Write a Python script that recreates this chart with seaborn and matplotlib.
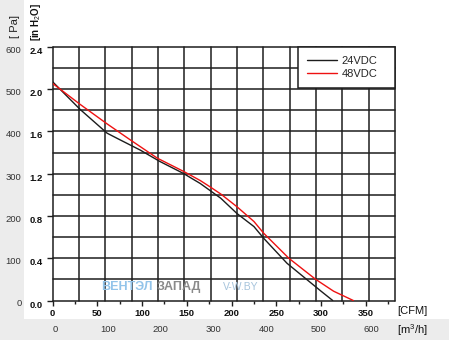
import numpy as np
import pandas as pd
import seaborn as sns
import matplotlib
matplotlib.use("Agg")
import matplotlib.pyplot as plt
from matplotlib.patches import Rectangle
from matplotlib import transforms as mtrans

# ---------------- data ----------------
series = ["24VDC", "48VDC"]
cfm_24 = [0, 31, 61, 72, 98, 120, 146, 165, 188, 206, 225, 236, 262, 285, 300, 313]
pa_24 = [518, 452, 396, 384, 356, 329, 301, 277, 242, 206, 175, 147, 88, 48, 22, 0]
cfm_48 = [0, 31, 61, 87, 117, 146, 165, 176, 188, 206, 225, 236, 264, 294, 314, 336]
pa_48 = [514, 464, 418, 380, 337, 306, 284, 269, 252, 222, 187, 159, 100, 50, 22, 0]

cfm_ticks = [0, 50, 100, 150, 200, 250, 300, 350]
m3h_ticks = [0, 100, 200, 300, 400, 500, 600]
pa_ticks = [0, 100, 200, 300, 400, 500, 600]
inh2o_labels = ["0.0", "0.4", "0.8", "1.2", "1.6", "2.0", "2.4"]
M3H_PER_CFM = 1.699
m3h_max = 650
grid_m3h_step = 50
grid_pa_step = 50

colors = {"24VDC": "#1c1c1c", "48VDC": "#ee1111"}

df = pd.concat([
    pd.DataFrame({"CFM": cfm_24, "Pa": pa_24, "Model": series[0]}),
    pd.DataFrame({"CFM": cfm_48, "Pa": pa_48, "Model": series[1]}),
], ignore_index=True)

# ---------------- style ----------------
sns.set_theme(style="white")
plt.rcParams["font.family"] = ["Liberation Sans", "DejaVu Sans"]
plt.rcParams["mathtext.fontset"] = "custom"
plt.rcParams["mathtext.rm"] = "Liberation Sans"
plt.rcParams["mathtext.bf"] = "Liberation Sans:bold"

W, H = 449, 350
fig = plt.figure(figsize=(W / 100, H / 100), dpi=100)
fig.patch.set_facecolor("white")


def fx(p):
    return p / W


def fy(p):
    return 1 - p / H


bg = "#ececec"
fig.patches.append(Rectangle((0, fy(340)), fx(24), 1 - fy(340), transform=fig.transFigure,
                             facecolor=bg, edgecolor="none", zorder=-10))
fig.patches.append(Rectangle((fx(3), fy(340)), 1 - fx(3), fy(319) - fy(340), transform=fig.transFigure,
                             facecolor=bg, edgecolor="none", zorder=-10))

ax = fig.add_axes([fx(52.5), fy(300.5), fx(395) - fx(52.5), fy(47) - fy(300.5)])
ax.set_facecolor("white")

xmax = m3h_max / M3H_PER_CFM
ax.set_xlim(0, xmax)
ax.set_ylim(0, max(pa_ticks))

gcol = "#1e1e1e"
for m in np.arange(0, m3h_max + 1, grid_m3h_step):
    ax.axvline(m / M3H_PER_CFM, color=gcol, lw=1.1, zorder=1, clip_on=False)
for p in np.arange(0, max(pa_ticks) + 1, grid_pa_step):
    ax.axhline(p, color=gcol, lw=1.1, zorder=1, clip_on=False)

sns.lineplot(data=df, x="CFM", y="Pa", hue="Model", palette=colors, estimator=None,
             sort=False, lw=1.0, ax=ax, zorder=3)

for s in ax.spines.values():
    s.set_visible(False)

ax.set_xlabel("")
ax.set_ylabel("")

# x ticks (CFM)
ax.set_xticks(cfm_ticks, [str(v) for v in cfm_ticks], fontsize=6.8, fontweight="bold", color="#111")
ax.set_xticks(np.array(cfm_ticks) + 25, minor=True)
ax.tick_params(axis="x", which="major", bottom=True, direction="out", length=3.5, width=1.0,
               color=gcol, pad=2.5)
ax.tick_params(axis="x", which="minor", bottom=True, direction="out", length=2.5, width=1.0,
               color=gcol)

# y ticks (in H2O)
ax.set_yticks(pa_ticks, inh2o_labels, fontsize=6.8, fontweight="bold", color="#111")
ax.tick_params(axis="y", which="major", left=True, direction="out", length=4, width=1.0,
               color=gcol, pad=3)
down = mtrans.ScaledTranslation(0, -0.035, fig.dpi_scale_trans)
for lab in ax.get_yticklabels():
    lab.set_transform(lab.get_transform() + down)

# Pa labels
tr_pa = mtrans.blended_transform_factory(fig.transFigure, ax.transData) + down
for v in pa_ticks:
    ax.text(fx(21.5), v, str(v), transform=tr_pa, ha="right", va="center",
            fontsize=6.8, color="#333", clip_on=False)

# m3/h labels
tr_m3 = mtrans.blended_transform_factory(ax.transData, fig.transFigure) + \
    mtrans.ScaledTranslation(0.03, 0, fig.dpi_scale_trans)
for v in m3h_ticks:
    ax.text(v / M3H_PER_CFM, fy(329.5), str(v), transform=tr_m3, ha="center", va="center",
            fontsize=6.8, color="#333", clip_on=False)

# unit labels
fig.text(fx(412), fy(311), "[CFM]", ha="center", va="center", fontsize=8, color="#111")
fig.text(fx(412), fy(330), "[m$^3$/h]", ha="center", va="center", fontsize=8, color="#111")
fig.text(fx(15), fy(27), "[ Pa]", ha="center", va="center", rotation=90, fontsize=8, color="#222")
fig.text(fx(36), fy(22), r"[in H$_2$O]", ha="center", va="center", rotation=90, fontsize=7,
         fontweight="bold", color="#111")

# watermark
fig.text(fx(101), fy(287), "ВЕНТЭЛ", ha="left", va="center", fontsize=9, fontweight="bold",
         color="#93c4ea")
fig.text(fx(157), fy(287), "ЗАПАД", ha="left", va="center", fontsize=9, fontweight="bold",
         color="#8a8a8a")
fig.text(fx(223), fy(287), "V-W.BY", ha="left", va="center", fontsize=7.5, color="#a6c4dc")

# legend
handles, labels = ax.get_legend_handles_labels()
x0 = (298 - 52.5) / (395 - 52.5)
leg = ax.legend(handles, labels, loc="upper left", bbox_to_anchor=(x0, 0, 1 - x0, 1),
                mode="expand", borderaxespad=0, frameon=True, fancybox=False, framealpha=1,
                edgecolor=gcol, fontsize=8, handlelength=2.7, handletextpad=0.45,
                borderpad=0.8, labelspacing=0.25)
leg.get_frame().set_linewidth(1.1)
leg.set_zorder(5)

fig.savefig("out.png", dpi=100)
